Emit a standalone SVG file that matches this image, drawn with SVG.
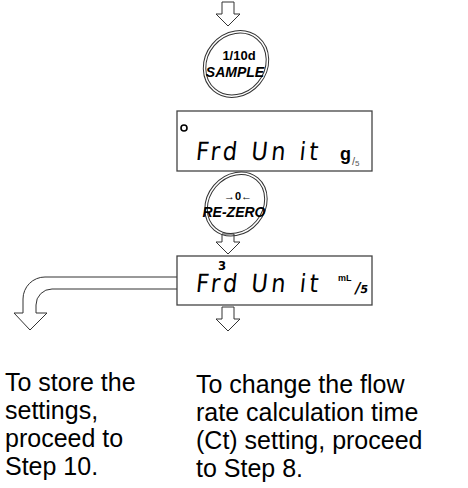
<svg xmlns="http://www.w3.org/2000/svg" width="468" height="488" viewBox="0 0 468 488">
<style>
.arr{fill:#fff;stroke:#333;stroke-width:1}
.disp{fill:#fff;stroke:#444;stroke-width:1.3}
.btn{fill:none;stroke:#333;stroke-width:1}
.seg{font-family:"DejaVu Sans Condensed","DejaVu Sans",sans-serif;fill:#000}
.bt{font-family:"Liberation Sans",Arial,sans-serif;font-weight:bold;fill:#000}
.lbl{font-family:"Liberation Sans",Arial,sans-serif;font-size:25px;fill:#000}
</style>
<rect width="468" height="488" fill="#fff"/>
<g id="connectors">
<polygon class="arr" points="222,2 234,2 234,14 240,14 228,26 216,14 222,14"/>
<polygon class="arr" points="222,234 234,234 234,242 240,242 228,254 216,242 222,242"/>
<polygon class="arr" points="222,307 234,307 234,319 240,319 228,331 216,319 222,319"/>
<path class="arr" d="M177,277 H45 A22,22 0 0 0 23,299 V313 H14 L30,330 L47,313 H36 V305 A16,16 0 0 1 52,289 H177"/>
</g>
<g id="btn-sample">
<ellipse class="btn" cx="236" cy="64" rx="35" ry="31" transform="rotate(-50 236 64)"/>
<ellipse class="btn" cx="236" cy="64" rx="32.5" ry="28.5" transform="rotate(-50 236 64)"/>
<text class="bt" x="239" y="60" font-size="13" text-anchor="middle">1/10d</text>
<text class="bt" x="235" y="77" font-size="14" font-style="italic" text-anchor="middle">SAMPLE</text>
</g>
<g id="display1">
<rect class="disp" x="177" y="111" width="195" height="60"/>
<circle cx="184" cy="128" r="3" fill="none" stroke="#000" stroke-width="1.6"/>
<text class="seg" x="195" y="160" style="font-size:25px" transform="skewX(-6) translate(17 0)" letter-spacing="3.5">Frd Un it</text>
<text class="bt" x="340" y="160" font-size="18">g</text>
<text x="352" y="165" font-family="Liberation Sans,sans-serif" font-size="11" fill="#555">/<tspan font-size="8" dy="1">5</tspan></text>
</g>
<g id="btn-rezero">
<ellipse class="btn" cx="236" cy="204" rx="34" ry="29" transform="rotate(-50 236 204)"/>
<ellipse class="btn" cx="236" cy="204" rx="31.5" ry="26.5" transform="rotate(-50 236 204)"/>
<text class="bt" x="238" y="200" font-size="11" text-anchor="middle">→0←</text>
<text class="bt" x="234" y="217" font-size="14" font-style="italic" text-anchor="middle">RE-ZERO</text>
</g>
<g id="display2">
<rect class="disp" x="177" y="256" width="195" height="49"/>
<text class="seg" x="218" y="270" style="font-size:13px;font-weight:bold">3</text>
<text class="seg" x="195" y="292" style="font-size:25px" transform="skewX(-6) translate(31 0)" letter-spacing="3.5">Frd Un it</text>
<text x="338" y="281" font-family="Liberation Sans,sans-serif" font-size="9" font-weight="bold">mL</text>
<text x="354" y="293" font-family="DejaVu Sans,sans-serif" font-size="15" font-weight="bold" transform="skewX(-10) translate(52 0)">/<tspan font-size="11">5</tspan></text>
</g>
<g id="text-left">
<text class="lbl" x="5" y="391">To store the</text>
<text class="lbl" x="5" y="419">settings,</text>
<text class="lbl" x="5" y="447">proceed to</text>
<text class="lbl" x="5" y="475">Step 10.</text>
</g>
<g id="text-right">
<text class="lbl" x="196" y="393">To change the flow</text>
<text class="lbl" x="196" y="421">rate calculation time</text>
<text class="lbl" x="196" y="449">(Ct) setting, proceed</text>
<text class="lbl" x="196" y="477">to Step 8.</text>
</g>
</svg>
